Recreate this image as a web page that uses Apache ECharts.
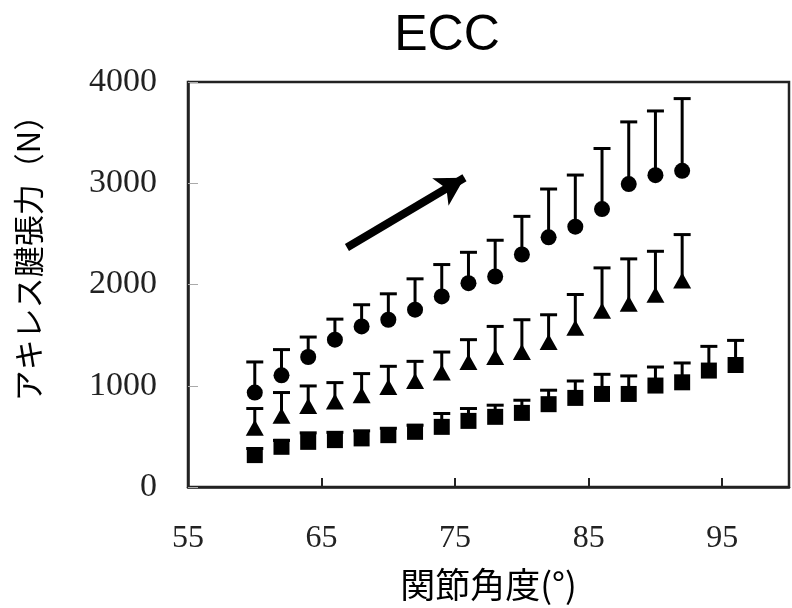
<!DOCTYPE html>
<html>
<head>
<meta charset="utf-8">
<script src="https://cdn.jsdelivr.net/npm/echarts@6/dist/echarts.min.js"></script>
<style>html,body{margin:0;padding:0;background:#fff;}#c{width:792px;height:608px;}</style>
</head>
<body>
<div id="c"></div>
<script>
// Joint angle (degrees)
const angles = [60,62,64,66,68,70,72,74,76,78,80,82,84,86,88,90,92,94,96];
// Circle series (mean and upper error)
const circleMean = [933,1103,1284,1455,1586,1652,1751,1882,2013,2079,2296,2466,2571,2745,2992,3080,3123];
const circleTop  = [1235,1357,1481,1658,1800,1908,2056,2197,2318,2437,2673,2943,3081,3343,3606,3714,3836];
// Triangle series
const triMean = [584,703,801,844,906,988,1047,1130,1235,1284,1333,1432,1573,1741,1810,1899,2039];
const triTop  = [775,933,998,1031,1120,1192,1241,1333,1455,1586,1652,1701,1901,2164,2253,2328,2493];
// Square series
const sqMean = [315,397,446,463,480,512,545,594,653,693,732,818,880,919,919,1002,1034,1150,1205];
const sqTop  = [380,460,535,540,555,580,610,726,775,808,857,956,1047,1113,1097,1185,1225,1389,1448];
// Axis ticks
const xTickLabels = [55,65,75,85,95];
const yTicks = [0,1000,2000,3000,4000];
// Annotation arrow (data coordinates: angle, force)
const arrowStart = [66.9, 2365];
const arrowEnd = [75.7, 3054];

const X0 = 55;
function pts(mean){ return mean.map((v,i)=>[angles[i]-X0, v]); }
function errs(mean, top){ return mean.map((v,i)=>[angles[i]-X0, v, top[i]]); }

function errRender(params, api){
  const x = api.value(0), lo = api.value(1), hi = api.value(2);
  const p1 = api.coord([x, lo]), p2 = api.coord([x, hi]);
  const w = 8.5;
  const st = {stroke:'#000', lineWidth:3};
  return {type:'group', children:[
    {type:'line', shape:{x1:p1[0], y1:p1[1], x2:p2[0], y2:p2[1]}, style:st},
    {type:'line', shape:{x1:p2[0]-w, y1:p2[1], x2:p2[0]+w, y2:p2[1]}, style:st}
  ]};
}

const serif = '"Liberation Serif","Times New Roman",serif';
const sans = '"Liberation Sans",Arial,sans-serif';
const cjk = '"Noto Sans CJK JP","Noto Sans",sans-serif';

const chart = echarts.init(document.getElementById('c'));
chart.setOption({
  animation:false,
  backgroundColor:'#fff',
  title:{text:'ECC', left:442, top:6, textAlign:'center',
    textStyle:{fontFamily:sans, fontSize:50, fontWeight:'normal', color:'#000'}},
  grid:{left:188, right:3, top:82, bottom:121, outerBoundsMode:'none', containLabel:false,
    show:true, borderColor:'#222', borderWidth:2.5, backgroundColor:'transparent'},
  xAxis:{type:'value', min:0, max:45, interval:10,
    name:'関節角度(°)', nameLocation:'middle', nameGap:80,
    nameTextStyle:{fontFamily:cjk, fontSize:35, color:'#000'},
    axisLine:{show:true, lineStyle:{color:'#222', width:2.5}},
    axisTick:{show:true, inside:true, length:9, lineStyle:{color:'#222', width:2}},
    splitLine:{show:false},
    axisLabel:{margin:36, fontFamily:serif, fontSize:32, color:'#222', showMaxLabel:false,
      formatter:(v)=> (v % 10 === 0 ? String(v+X0) : '')}
  },
  yAxis:{type:'value', min:0, max:4000, interval:1000,
    name:'アキレス腱張力（N）', nameLocation:'middle', nameGap:144, nameRotate:90,
    nameTextStyle:{fontFamily:cjk, fontSize:31, color:'#000', padding:[0,0,0,68]},
    axisLine:{show:true, lineStyle:{color:'#222', width:2.5}},
    axisTick:{show:true, inside:true, length:10, lineStyle:{color:'#aaa', width:1}},
    splitLine:{show:false},
    axisLabel:{margin:31, fontFamily:serif, fontSize:34, color:'#222',
      formatter:(v)=>String(v)}
  },
  series:[
    {type:'custom', renderItem:errRender, data:errs(circleMean,circleTop), z:2},
    {type:'custom', renderItem:errRender, data:errs(triMean,triTop), z:2},
    {type:'custom', renderItem:errRender, data:errs(sqMean,sqTop), z:2},
    {type:'scatter', data:pts(circleMean), symbol:'circle', symbolSize:16,
      itemStyle:{color:'#000', opacity:1}, z:3,
      markLine:{silent:true, symbol:['none','arrow'], symbolSize:[24,28],
        label:{show:false}, lineStyle:{color:'#000', width:8, type:'solid', opacity:1},
        data:[[{coord:[arrowStart[0]-X0, arrowStart[1]]},{coord:[arrowEnd[0]-X0, arrowEnd[1]]}]]}},
    {type:'scatter', data:pts(triMean), symbol:'triangle', symbolSize:[18,16],
      itemStyle:{color:'#000', opacity:1}, z:3},
    {type:'scatter', data:pts(sqMean), symbol:'rect', symbolSize:16,
      itemStyle:{color:'#000', opacity:1}, z:3}
  ]
});
</script>
</body>
</html>
